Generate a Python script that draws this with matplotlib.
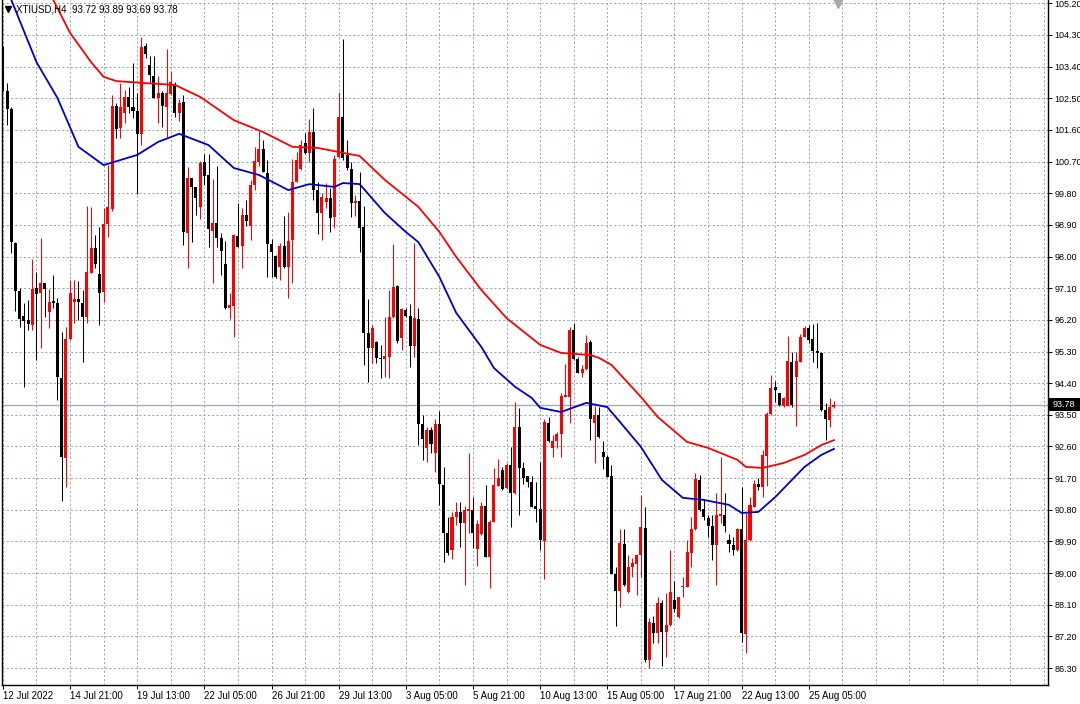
import matplotlib
matplotlib.use("Agg")
import matplotlib.pyplot as plt
from matplotlib.lines import Line2D
from matplotlib.patches import Rectangle
from matplotlib.transforms import blended_transform_factory

symbol = "XTIUSD"
timeframe = "H4"

opens = [103.92, 102.71, 102.20, 98.39, 97.02, 96.31, 96.20, 96.05, 97.10, 96.97,
         97.24, 96.43, 96.74, 96.67, 94.56, 92.28, 95.65, 96.72, 96.79, 96.69,
         96.27, 97.54, 98.23, 97.50, 97.00, 98.93, 99.35, 102.28, 101.65, 102.09,
         102.53, 102.24, 102.15, 101.48, 103.99, 103.45, 103.14, 102.52, 102.64, 102.26,
         102.61, 102.88, 102.09, 102.39, 98.68, 100.22, 99.99, 99.42, 100.69, 100.32,
         98.74, 98.96, 98.52, 97.79, 96.55, 96.60, 98.58, 98.30, 99.18, 98.88,
         100.04, 100.70, 101.05, 100.39, 98.35, 98.02, 97.70, 98.31, 97.71, 98.47,
         100.13, 100.48, 101.22, 100.94, 101.55, 99.89, 99.23, 99.56, 99.66, 99.12,
         100.82, 101.96, 100.89, 100.48, 99.53, 99.59, 98.85, 95.83, 95.41, 95.58,
         95.12, 95.08, 95.15, 96.27, 97.17, 95.68, 96.48, 96.31, 95.47, 96.22,
         93.24, 92.56, 93.07, 92.41, 93.24, 91.50, 90.13, 89.66, 90.60, 90.75,
         90.42, 90.77, 90.79, 89.68, 90.10, 90.91, 89.47, 90.46, 91.48, 91.93,
         91.41, 92.07, 91.27, 93.14, 91.99, 91.76, 91.58, 90.91, 90.81, 89.91,
         93.28, 92.55, 92.76, 92.96, 94.02, 94.02, 95.91, 95.08, 94.70, 94.80,
         95.56, 93.28, 93.50, 92.45, 92.31, 91.76, 88.98, 88.50, 89.83, 88.47,
         89.16, 89.26, 89.52, 90.29, 86.53, 87.59, 87.29, 88.16, 87.33, 87.52,
         88.24, 87.76, 88.60, 88.61, 89.58, 90.25, 91.65, 90.82, 90.58, 90.34,
         89.80, 90.63, 90.65, 89.94, 89.80, 89.66, 90.25, 87.27, 89.94, 90.89,
         91.53, 91.44, 92.34, 93.52, 94.28, 94.11, 93.76, 93.76, 95.01, 94.57,
         95.01, 95.72, 95.96, 95.65, 95.32, 95.27, 93.64, 93.35, 93.72]

highs = [103.98, 102.94, 102.25, 98.41, 97.11, 96.68, 96.77, 97.92, 97.57, 98.52,
         97.25, 97.07, 97.48, 96.83, 95.85, 96.01, 97.33, 97.33, 97.31, 97.05,
         99.45, 99.42, 98.61, 98.85, 99.37, 100.60, 102.59, 102.36, 102.94, 102.74,
         102.81, 103.50, 102.64, 104.25, 104.06, 103.70, 103.70, 103.12, 102.72, 103.90,
         103.29, 102.97, 102.47, 102.59, 100.56, 100.23, 99.99, 100.73, 100.92, 100.92,
         100.20, 100.58, 98.66, 98.44, 96.96, 98.63, 99.53, 99.37, 99.61, 100.18,
         101.12, 101.58, 101.31, 100.75, 98.49, 98.04, 98.38, 99.15, 99.28, 100.77,
         100.98, 101.31, 101.50, 101.90, 102.22, 100.13, 99.82, 100.08, 99.94, 100.89,
         102.69, 104.18, 101.31, 100.70, 99.75, 100.41, 99.44, 96.78, 96.05, 95.60,
         95.49, 96.29, 97.05, 98.35, 97.19, 96.53, 96.53, 96.64, 98.38, 96.55,
         93.50, 93.16, 93.16, 93.37, 93.62, 92.03, 90.60, 90.75, 91.03, 91.03,
         90.91, 92.41, 91.17, 90.51, 91.03, 91.51, 90.51, 91.98, 92.24, 92.03,
         92.12, 92.59, 93.87, 93.70, 92.17, 91.76, 91.77, 91.58, 92.15, 93.38,
         93.45, 92.93, 93.02, 94.11, 94.94, 96.01, 96.12, 95.15, 94.92, 95.77,
         95.63, 93.75, 93.72, 92.76, 92.36, 92.07, 89.18, 90.25, 90.25, 89.52,
         89.42, 89.55, 91.22, 90.87, 87.71, 87.78, 88.33, 88.24, 88.43, 89.66,
         88.78, 88.32, 88.90, 89.94, 90.60, 91.84, 91.79, 91.11, 90.65, 90.65,
         91.27, 92.31, 91.27, 90.11, 90.03, 90.28, 91.46, 90.70, 91.17, 91.65,
         91.70, 92.50, 93.59, 94.63, 94.47, 94.12, 94.02, 95.74, 95.29, 95.29,
         95.80, 96.03, 96.05, 96.08, 96.10, 95.29, 93.83, 93.97, 93.89]

lows = [102.70, 101.74, 98.10, 96.45, 96.01, 94.30, 95.91, 95.91, 95.06, 95.39,
        96.27, 95.98, 96.54, 93.92, 91.05, 91.46, 95.63, 96.10, 96.20, 94.99,
        96.12, 97.53, 97.67, 96.05, 96.72, 98.56, 99.30, 101.38, 101.36, 101.81,
        102.07, 101.93, 99.77, 101.17, 103.65, 102.97, 102.51, 101.79, 101.68, 101.39,
        102.60, 101.98, 101.86, 98.33, 97.67, 98.40, 99.18, 99.07, 100.04, 98.28,
        97.24, 98.28, 97.48, 96.50, 96.22, 95.72, 98.27, 97.67, 98.88, 98.47,
        99.89, 100.57, 100.40, 97.41, 97.41, 97.38, 97.33, 97.67, 96.81, 97.26,
        100.12, 100.46, 100.92, 100.70, 99.61, 98.64, 98.47, 99.37, 98.71, 98.80,
        100.80, 100.75, 100.46, 99.13, 99.15, 98.14, 94.92, 94.44, 94.96, 94.96,
        94.54, 94.58, 94.56, 96.25, 95.53, 95.34, 96.28, 94.87, 95.15, 92.64,
        92.22, 92.17, 92.41, 91.88, 90.93, 89.32, 89.52, 89.39, 90.37, 89.75,
        88.66, 90.13, 89.71, 89.20, 90.08, 89.46, 88.58, 90.45, 91.48, 91.36,
        91.39, 90.32, 91.25, 90.65, 91.53, 91.45, 90.88, 90.46, 89.66, 88.82,
        92.73, 92.31, 92.55, 92.31, 94.01, 93.26, 95.06, 94.69, 94.58, 94.77,
        92.78, 92.14, 92.84, 91.95, 91.73, 88.96, 87.50, 88.03, 88.64, 88.43,
        88.89, 88.38, 88.89, 86.47, 86.30, 87.00, 87.00, 86.36, 86.62, 87.50,
        87.90, 87.72, 88.33, 88.60, 89.18, 90.23, 90.77, 90.51, 90.03, 89.37,
        88.66, 90.42, 90.17, 89.61, 89.52, 89.63, 87.05, 86.72, 89.91, 90.88,
        91.36, 91.17, 91.48, 93.50, 93.87, 93.75, 93.73, 93.75, 93.73, 93.18,
        95.00, 95.71, 95.53, 95.01, 94.82, 93.61, 92.78, 93.16, 93.69]

closes = [102.72, 102.20, 98.40, 97.03, 96.23, 96.18, 96.08, 97.07, 96.94, 97.24,
          97.08, 96.72, 96.67, 94.57, 92.31, 95.66, 96.96, 96.79, 96.72, 96.29,
          97.55, 98.23, 97.78, 96.97, 98.94, 99.40, 102.28, 101.63, 102.24, 102.53,
          102.26, 102.15, 101.48, 103.97, 103.76, 103.16, 102.52, 102.64, 102.28, 102.64,
          102.95, 102.09, 102.36, 98.71, 100.24, 99.99, 99.66, 100.67, 100.30, 98.78,
          98.96, 98.52, 98.17, 96.53, 96.61, 98.61, 98.28, 99.18, 99.02, 100.04,
          100.72, 101.05, 100.41, 98.35, 98.12, 97.43, 98.31, 97.71, 98.44, 100.13,
          100.75, 101.17, 100.94, 101.55, 99.89, 99.23, 99.69, 99.66, 99.09, 100.77,
          101.96, 100.79, 100.51, 99.53, 99.59, 98.82, 95.83, 95.41, 95.96, 95.12,
          95.08, 95.17, 96.29, 97.14, 95.60, 96.50, 96.31, 95.47, 96.26, 93.24,
          92.81, 93.07, 92.66, 93.24, 91.52, 90.13, 89.56, 90.60, 90.75, 90.42,
          90.79, 90.82, 90.13, 90.40, 90.91, 89.47, 90.46, 91.50, 91.69, 91.39,
          92.07, 91.29, 93.14, 91.99, 91.71, 91.60, 90.89, 90.82, 89.94, 93.30,
          92.76, 92.76, 92.96, 94.04, 94.06, 95.91, 95.08, 94.70, 94.80, 95.55,
          93.37, 93.50, 92.86, 92.31, 91.74, 88.98, 88.50, 89.85, 88.66, 89.18,
          89.28, 89.52, 90.32, 86.53, 87.62, 87.29, 88.14, 87.33, 87.52, 88.47,
          87.98, 88.31, 88.63, 89.61, 90.25, 91.67, 90.79, 90.60, 90.34, 89.80,
          90.65, 90.68, 90.34, 89.82, 89.66, 90.25, 87.29, 89.94, 90.94, 91.53,
          91.44, 92.36, 93.52, 94.25, 94.21, 93.78, 93.99, 95.04, 93.78, 95.03,
          95.72, 95.96, 95.63, 95.32, 95.25, 93.64, 93.38, 93.73, 93.78]

# moving averages (bar index, price)
ma_slow_idx = [10, 12, 16, 21, 24, 27, 33, 41, 47, 55, 62, 69, 75, 81, 85, 91, 96, 99,
               104, 108, 114, 120, 128, 133, 140, 142, 145, 152, 156, 163, 168, 175,
               177, 181, 186, 191, 195, 198]
ma_slow = [105.90, 105.30, 104.36, 103.53, 103.11, 102.99, 102.94, 102.88, 102.54,
           101.88, 101.54, 101.12, 101.09, 100.95, 100.86, 100.18, 99.70, 99.41,
           98.70, 97.99, 97.05, 96.25, 95.49, 95.26, 95.20, 95.12, 94.92, 94.01,
           93.44, 92.73, 92.56, 92.22, 92.02, 91.99, 92.13, 92.36, 92.64, 92.78]

ma_fast_idx = [0, 2, 8, 13, 18, 24, 32, 37, 42, 49, 55, 61, 68, 73, 79, 81, 85, 91, 96,
               99, 104, 108, 114, 117, 122, 126, 128, 133, 139, 144, 147, 152, 157,
               162, 167, 173, 176, 180, 184, 191, 195, 198]
ma_fast = [106.10, 105.30, 103.53, 102.51, 101.12, 100.60, 100.89, 101.26, 101.49,
           101.17, 100.52, 100.32, 99.89, 100.06, 99.98, 100.09, 100.06, 99.24, 98.70,
           98.41, 97.42, 96.40, 95.43, 94.83, 94.30, 93.98, 93.70, 93.58, 93.84,
           93.72, 93.30, 92.59, 91.65, 91.14, 91.08, 90.94, 90.71, 90.74, 91.16,
           92.02, 92.36, 92.53]

x_tick_bars = [0, 16, 32, 48, 64, 80, 96, 112, 128, 144, 160, 176, 192]
x_tick_labels = ["12 Jul 2022", "14 Jul 21:00", "19 Jul 13:00", "22 Jul 05:00",
                 "26 Jul 21:00", "29 Jul 13:00", "3 Aug 05:00", "5 Aug 21:00",
                 "10 Aug 13:00", "15 Aug 05:00", "17 Aug 21:00", "22 Aug 13:00",
                 "25 Aug 05:00"]
y_ticks = [86.30, 87.20, 88.10, 89.00, 89.90, 90.80, 91.70, 92.60, 93.50, 94.40,
           95.30, 96.20, 97.10, 98.00, 98.90, 99.80, 100.70, 101.60, 102.50,
           103.40, 104.30, 105.20]

# ---------------------------------------------------------------- drawing
W, H = 1080, 704
fig = plt.figure(figsize=(W / 100, H / 100), dpi=100)
fig.patch.set_facecolor("white")
ax = fig.add_axes([1.5 / W, 19 / H, 1046.5 / W, 685 / H])
ax.set_facecolor("white")

ax.set_xlim(-0.33, 249.0)
ax.set_ylim(85.818, 105.295)

grid_color = "#9ba5b5"
grid_ls = (0, (2.2, 2.2))
for yv in y_ticks:
    ax.axhline(yv, color=grid_color, lw=0.7, ls=grid_ls, zorder=0)
for xv in range(0, 256, 8):
    ax.axvline(xv, color=grid_color, lw=0.7, ls=grid_ls, zorder=0)

# current price line
last_close = closes[-1]
ax.axhline(last_close, color="#a3adbb", lw=1.0, zorder=1)

n = len(opens)
xs = list(range(n))
up_color = "#ff0000"
down_color = "#000000"
cols = [up_color if c >= o else down_color for o, c in zip(opens, closes)]
ax.vlines(xs, lows, highs, colors=cols, lw=0.75, zorder=2)
bottoms = [min(o, c) for o, c in zip(opens, closes)]
heights = [max(abs(c - o), 0.04) for o, c in zip(opens, closes)]
ax.bar(xs, heights, bottom=bottoms, width=0.72, color=cols, linewidth=0,
       zorder=3)

ax.plot(ma_slow_idx, ma_slow, color="#ff0000", lw=1.3, zorder=4,
        solid_joinstyle="round")
ax.plot(ma_fast_idx, ma_fast, color="#0000cc", lw=1.3, zorder=4,
        solid_joinstyle="round")

# axes styling
ax.spines["top"].set_visible(False)
for s in ["left", "bottom", "right"]:
    ax.spines[s].set_color("black")
    ax.spines[s].set_linewidth(1.0)

axis_font = "Liberation Sans"
ax.yaxis.tick_right()
ax.set_yticks(y_ticks)
ax.set_yticklabels([f"{v:.2f}" for v in y_ticks], fontfamily=axis_font)
ax.tick_params(axis="y", direction="out", length=3, width=0.7, pad=1.5,
               labelsize=6.5, colors="black")
ax.set_xticks(x_tick_bars)
ax.set_xticklabels(x_tick_labels, ha="left", fontfamily=axis_font)
ax.tick_params(axis="x", direction="out", length=3, width=0.7, pad=1.5,
               labelsize=7, colors="black")

# current price label box on the price scale
bt = blended_transform_factory(fig.transFigure, ax.transData)
box_h = 13 / 35.17
fig.add_artist(Rectangle((1049 / W, last_close - box_h / 2), 31 / W, box_h,
                         transform=bt, facecolor="black", edgecolor="none",
                         clip_on=False, zorder=10))
fig.add_artist(plt.Text(1052.5 / W, last_close, f"{last_close:.2f}", transform=bt,
                        color="white", fontsize=6.5, va="center", ha="left",
                        fontfamily=axis_font, zorder=11))

# header text
fig.add_artist(Line2D([8 / W], [1 - 8.5 / H], marker="v", markersize=4.5,
                      color="black", transform=fig.transFigure))
fig.text(16 / W, 1 - 9 / H,
         f"{symbol},{timeframe}  {opens[-1]:.2f} {highs[-1]:.2f} {lows[-1]:.2f} {closes[-1]:.2f}",
         fontsize=7, va="center", ha="left", color="black", fontfamily=axis_font)

# chart shift marker at top
fig.add_artist(Line2D([838 / W], [1 - 3 / H], marker="v", markersize=7,
                      color="#a8a8a8", transform=fig.transFigure))

fig.savefig("out.png", dpi=100, facecolor="white")
